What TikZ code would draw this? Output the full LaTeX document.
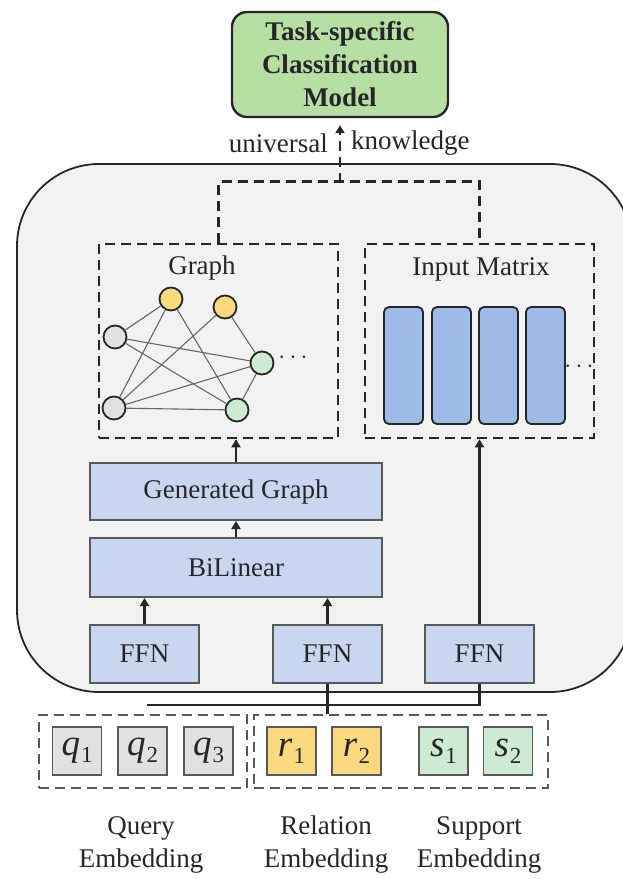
\documentclass[tikz,border=0pt]{standalone}
\usepackage{fontspec}
\setmainfont{Liberation Serif}
\usetikzlibrary{arrows.meta,calc}

\definecolor{inkc}{HTML}{262626}
\definecolor{panelfill}{HTML}{F2F2F2}
\definecolor{taskgreen}{HTML}{B6DFA4}
\definecolor{layerblue}{HTML}{C9D6F0}
\definecolor{colblue}{HTML}{9DBBE6}
\definecolor{nodegrey}{HTML}{E1E1E1}
\definecolor{nodeyellow}{HTML}{FBD97E}
\definecolor{nodegreen}{HTML}{CDEBD2}

% italic symbol with a lowered index, e.g. q_1
\newcommand\embsym[2]{\textit{#1}\kern1pt\raisebox{-0.18em}{\fontsize{23}{23}\selectfont #2}}

\tikzset{
  lbl/.style={font=\fontsize{27}{33}\selectfont, text=inkc, inner sep=0pt},
  taskbox/.style={draw=inkc, line width=2.4pt, fill=taskgreen, rounded corners=15pt,
    align=center, font=\fontsize{27}{33}\selectfont\bfseries, text=inkc, inner sep=0pt},
  panel/.style={draw=inkc, line width=1.8pt, fill=panelfill, rounded corners=82pt, inner sep=0pt},
  groupbox/.style={draw=inkc, line width=2.6pt, dash pattern=on 10pt off 6pt, inner sep=0pt},
  embgroup/.style={draw=black!65, line width=2pt, dash pattern=on 10pt off 6pt, inner sep=0pt},
  layerbox/.style={draw=black!65, line width=2pt, fill=layerblue, inner sep=0pt,
    font=\fontsize{27}{33}\selectfont, text=inkc},
  column/.style={draw=inkc, line width=1.8pt, fill=colblue, rounded corners=5pt,
    minimum width=39pt, minimum height=117pt, inner sep=0pt},
  gnode/.style={circle, draw=inkc, line width=1.8pt, minimum size=23pt, inner sep=0pt},
  gedge/.style={draw=black!60, line width=1.1pt},
  embbox/.style={draw=black!65, line width=1.8pt, minimum width=49pt, minimum height=48pt,
    inner sep=0pt, font=\fontsize{37}{38}\selectfont, text=inkc},
  arr/.style={draw=inkc, line width=2.6pt, -{Triangle[length=8pt,width=9pt]}},
  wire/.style={draw=inkc, line width=2.6pt},
  dwire/.style={draw=inkc, line width=2.6pt, dash pattern=on 10pt off 6pt},
}

\begin{document}
\begin{tikzpicture}[x=1pt, y=-1pt]
\useasboundingbox (0,0) rectangle (623,879);

% shared encoder panel
\node[panel, minimum width=615pt, minimum height=528pt] (panel) at (324.5,428) {};

% task head
\node[taskbox, minimum width=216pt, minimum height=105pt] (task) at (340,64.5)
  {Task-specific\\Classification\\Model};

% graph and input matrix groups
\node[groupbox, minimum width=239pt, minimum height=194pt] (graphbox) at (218.5,341) {};
\node[groupbox, minimum width=229pt, minimum height=194pt] (inbox) at (479.5,341) {};
\node[lbl] (graphlbl) at (202,268) {Graph};
\node[lbl] (inlbl) at (481,269) {Input Matrix};

% merge of both groups and output arrow
\coordinate (merge) at (340,183);
\draw[dwire] (graphbox.north) -- ++(0,-61) -| (inbox.north);
\draw[dwire, -{Triangle[length=8pt,width=9pt]}, shorten >=7pt] (merge) -- (task.south);
\node[lbl, anchor=east] (univ) at (328,143) {universal};
\node[lbl, anchor=west] (know) at (351,143) {knowledge};

% small graph
\node[gnode, fill=nodegrey] (a1) at (115,337) {};
\node[gnode, fill=nodegrey] (a2) at (114,408) {};
\node[gnode, fill=nodeyellow] (b1) at (171,299) {};
\node[gnode, fill=nodeyellow] (b2) at (225,307) {};
\node[gnode, fill=nodegreen] (c1) at (262,363) {};
\node[gnode, fill=nodegreen] (c2) at (237,410) {};
\foreach \u/\v in {a1/b1, a1/c1, a1/c2, a2/b1, a2/b2, a2/c1, a2/c2, b1/c2, b2/c1, c1/c2}
  \draw[gedge] (\u) -- (\v);
\node[inner sep=0pt, font=\fontsize{24}{24}\selectfont, text=inkc] (gdots) at (293,358) {$\cdots$};

% input matrix columns
\node[column] (m1) at (403.5,365.5) {};
\node[column] (m2) at (451.5,365.5) {};
\node[column] (m3) at (498.5,365.5) {};
\node[column] (m4) at (545.5,365.5) {};
\node[inner sep=0pt, font=\fontsize{24}{24}\selectfont, text=inkc] (mdots) at (579,367) {$\cdots$};

% layers
\node[layerbox, minimum width=292pt, minimum height=57pt] (gen) at (236,491.5) {Generated Graph};
\node[layerbox, minimum width=292pt, minimum height=59pt] (bil) at (236,567.5) {BiLinear};
\node[layerbox, minimum width=109pt, minimum height=58pt] (ffn1) at (144.5,654) {FFN};
\node[layerbox, minimum width=109pt, minimum height=58pt] (ffn2) at (327.5,654) {FFN};
\node[layerbox, minimum width=109pt, minimum height=58pt] (ffn3) at (479.5,654) {FFN};

\draw[arr] (ffn1.north) -- (bil.south -| ffn1.north);
\draw[arr] (ffn2.north) -- (bil.south -| ffn2.north);
\draw[arr] (bil.north) -- (gen.south);
\draw[arr] (gen.north) -- (graphbox.south -| gen.north);
\draw[arr] (ffn3.north) -- (inbox.south -| ffn3.north);

% embeddings
\node[embgroup, minimum width=208pt, minimum height=73pt] (qgroup) at (143,751.5) {};
\node[embgroup, minimum width=294pt, minimum height=73pt] (rsgroup) at (401,751.5) {};
\node[embbox, fill=nodegrey] (q1) at (77,751) {\embsym{q}{1}};
\node[embbox, fill=nodegrey] (q2) at (142.5,751) {\embsym{q}{2}};
\node[embbox, fill=nodegrey] (q3) at (208.5,751) {\embsym{q}{3}};
\node[embbox, fill=nodeyellow] (r1) at (291.5,751) {\embsym{r}{1}};
\node[embbox, fill=nodeyellow] (r2) at (356.5,751) {\embsym{r}{2}};
\node[embbox, fill=nodegreen] (s1) at (443.5,751) {\embsym{s}{1}};
\node[embbox, fill=nodegreen] (s2) at (508,751) {\embsym{s}{2}};

% wiring from embeddings into the FFNs
\draw[wire] ($(ffn1.south)+(2.5,0)$) -- ($(ffn1.south)+(2.5,0)$ |- qgroup.north);
\draw[wire] (ffn2.south) -- (ffn2.south |- rsgroup.north);
\draw[wire] (ffn3.south) |- ($(ffn1.south)+(2.5,21)$);

% captions
\node[lbl, align=center] (qcap) at (141,844.5) {Query\\Embedding};
\node[lbl, align=center] (rcap) at (326,844.5) {Relation\\Embedding};
\node[lbl, align=center] (scap) at (479,844.5) {Support\\Embedding};
\end{tikzpicture}
\end{document}
